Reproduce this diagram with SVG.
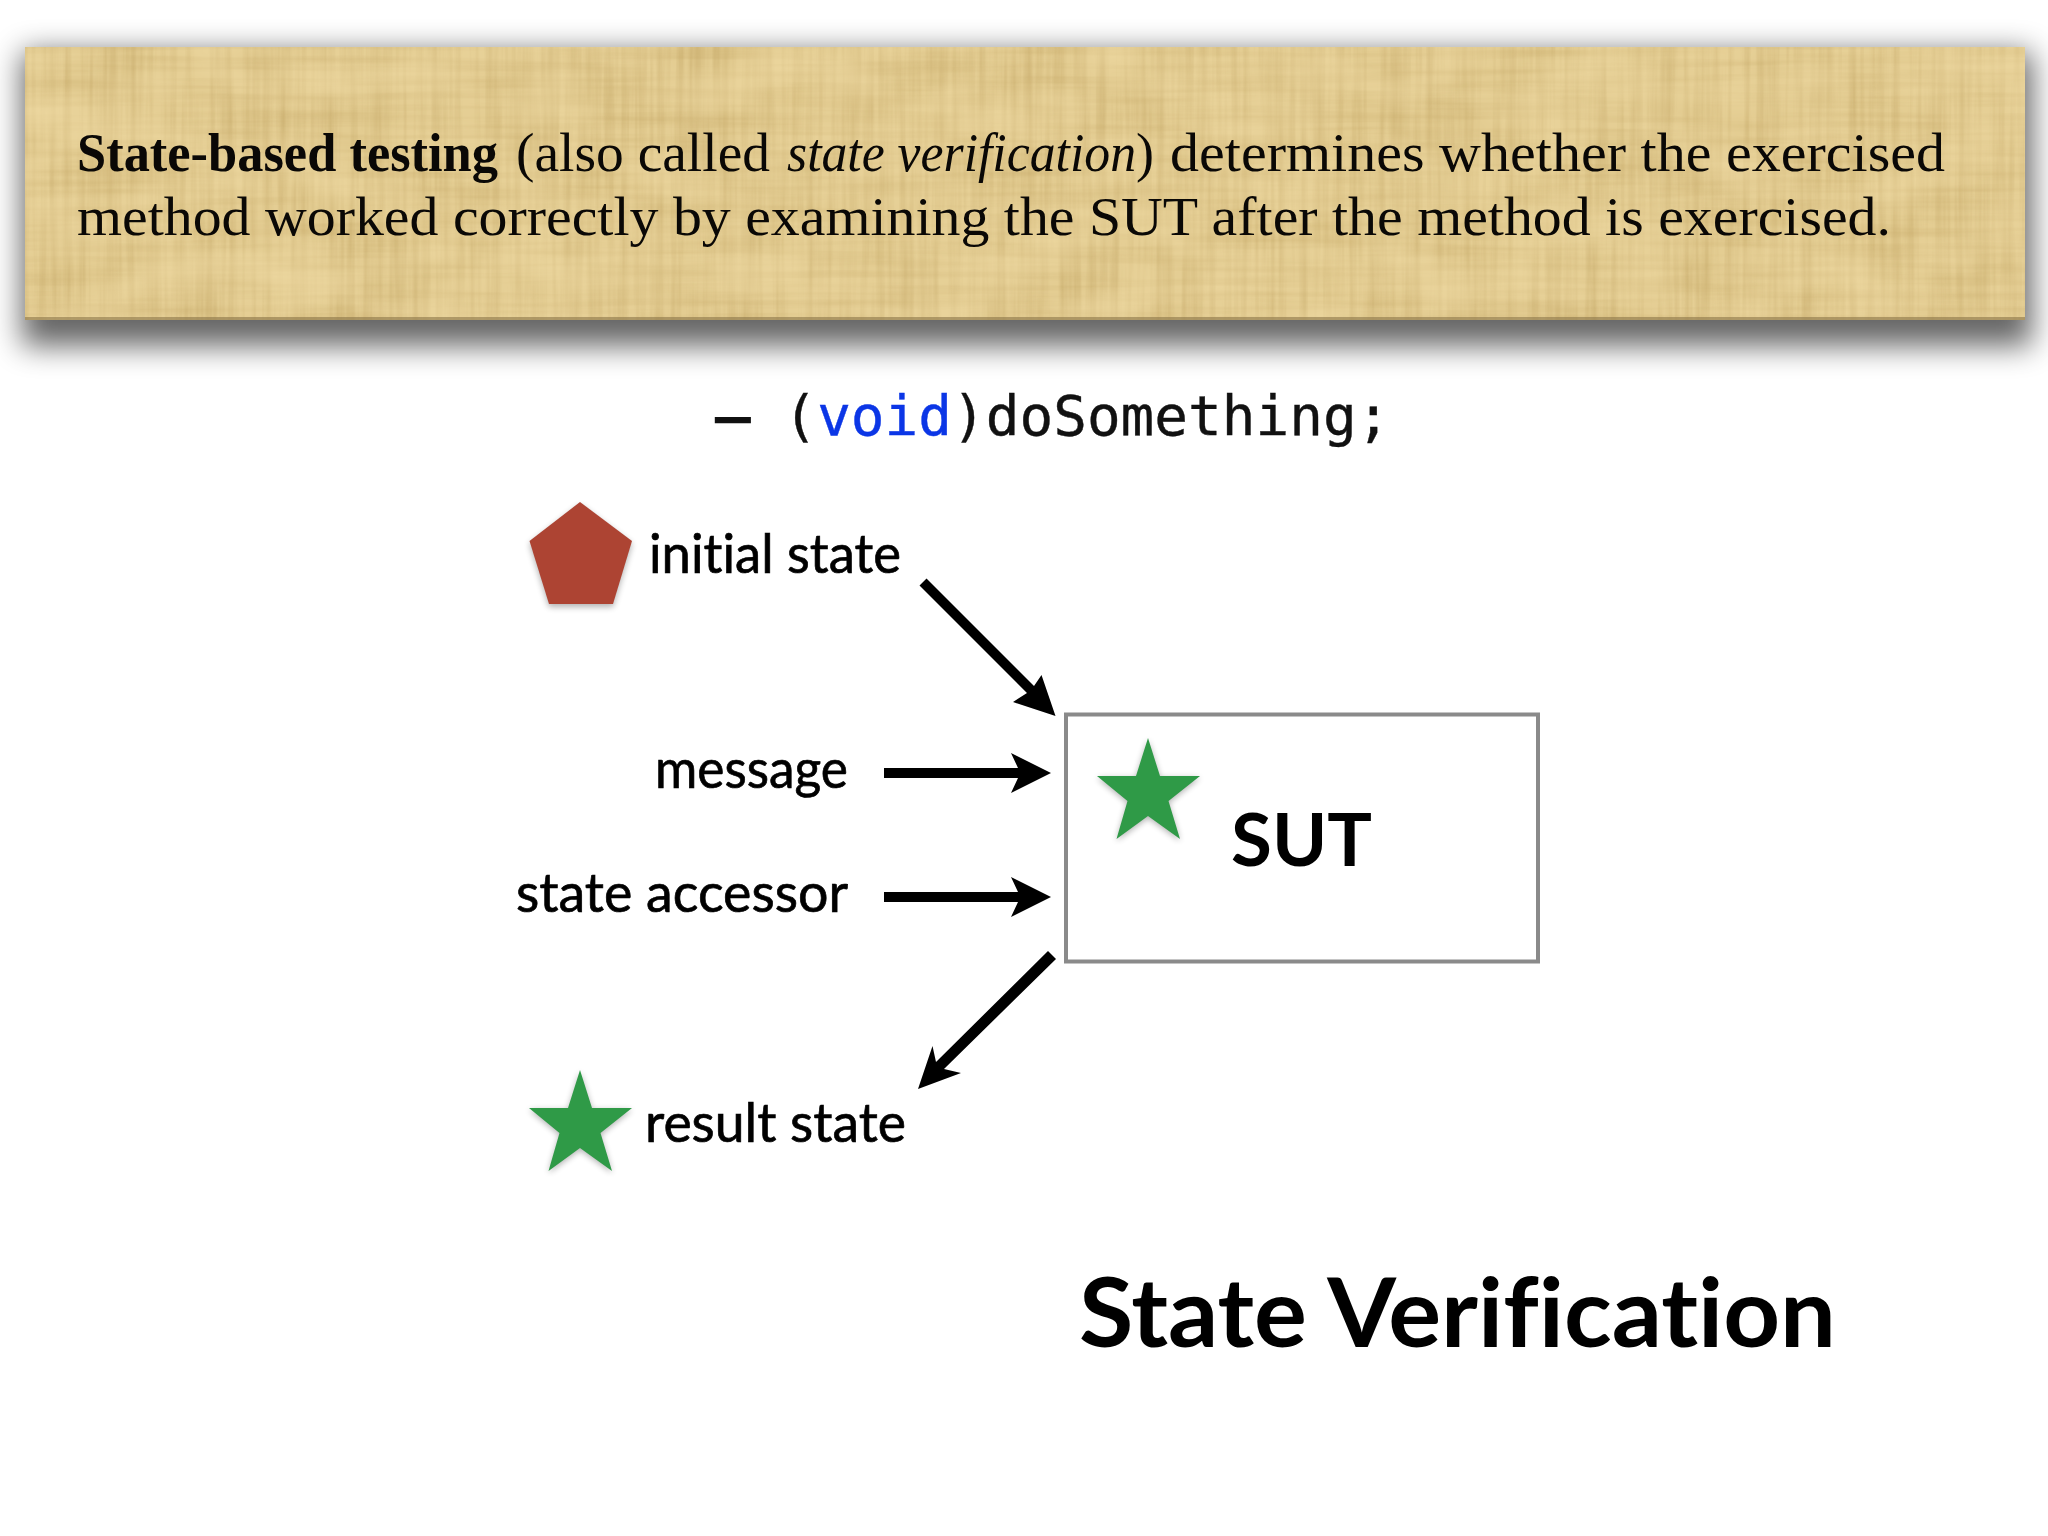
<svg xmlns="http://www.w3.org/2000/svg" width="2048" height="1536" viewBox="0 0 2048 1536">
<style>
.serif{font-family:"Liberation Serif","Times New Roman",serif;font-size:55px;fill:#0a0806}
.gill{font-family:Lato,"Noto Sans",sans-serif;fill:#000;font-variant-ligatures:none}
.lbl{font-size:55px;stroke:#000;stroke-width:.7px}
.mono{font-family:"DejaVu Sans Mono","Liberation Mono",monospace;font-size:56px;fill:#111;stroke:#111;stroke-width:.4px}
.arr{fill:#000;stroke:none}
</style>
<defs>
<filter id="paper" x="0" y="0" width="1" height="1" color-interpolation-filters="sRGB">
<feTurbulence type="fractalNoise" baseFrequency="0.14 0.005" numOctaves="3" seed="4" result="v"/>
<feColorMatrix in="v" type="matrix" values="0 0 0 0 .72 0 0 0 0 .6 0 0 0 0 .34 .7 0 0 0 -.24" result="vc"/>
<feTurbulence type="fractalNoise" baseFrequency="0.005 0.14" numOctaves="3" seed="9" result="h"/>
<feColorMatrix in="h" type="matrix" values="0 0 0 0 .74 0 0 0 0 .62 0 0 0 0 .36 .5 0 0 0 -.18" result="hc"/>
<feTurbulence type="fractalNoise" baseFrequency="0.012 0.02" numOctaves="2" seed="15" result="l"/>
<feColorMatrix in="l" type="matrix" values="0 0 0 0 .95 0 0 0 0 .87 0 0 0 0 .66 1 0 0 0 -.3" result="lc"/>
<feMerge result="m"><feMergeNode in="SourceGraphic"/><feMergeNode in="vc"/><feMergeNode in="hc"/><feMergeNode in="lc"/></feMerge>
<feComposite in="m" in2="SourceGraphic" operator="in"/>
</filter>
<filter id="bshadow" x="-5%" y="-30%" width="110%" height="160%"><feGaussianBlur stdDeviation="15"/></filter>
<filter id="soft" x="-20%" y="-20%" width="140%" height="140%"><feGaussianBlur stdDeviation="3"/></filter>
<polygon id="star" points="580,1070 592,1108 632,1108 600.5,1133 612,1171 580,1148 548.5,1171 559.5,1133 529,1108 568,1108"/>
</defs>
<rect width="2048" height="1536" fill="#fff"/>
<g id="banner">
<rect x="22" y="52" width="2010" height="294" fill="#000" opacity=".6" filter="url(#bshadow)"/>
<rect x="25" y="47" width="2000" height="273" fill="#e3cc91" filter="url(#paper)"/>
<rect x="25" y="317" width="2000" height="3" fill="#8a7448" opacity=".6"/>
<text class="serif" y="171"><tspan x="77" font-weight="bold" textLength="421" lengthAdjust="spacingAndGlyphs">State-based testing</tspan> <tspan x="516" textLength="254" lengthAdjust="spacingAndGlyphs">(also called</tspan> <tspan x="787" font-style="italic" textLength="349" lengthAdjust="spacingAndGlyphs">state verification</tspan><tspan x="1136" textLength="18" lengthAdjust="spacingAndGlyphs">)</tspan> <tspan x="1170" textLength="775" lengthAdjust="spacingAndGlyphs">determines whether the exercised</tspan></text>
<text class="serif" x="77" y="235" textLength="1814" lengthAdjust="spacingAndGlyphs">method worked correctly by examining the SUT after the method is exercised.</text>
</g>
<text id="signature" class="mono" x="716" y="435"><tspan stroke-width="2.4">–</tspan> (<tspan fill="#0b36e6" stroke="#0b36e6">void</tspan>)doSomething;</text>
<g id="initial-state">
<polygon points="580,502 632,541 613,604 549,604 529.5,541" fill="#000" opacity=".3" filter="url(#soft)" transform="translate(0,3)"/>
<polygon points="580,502 632,541 613,604 549,604 529.5,541" fill="#ad4433"/>
<text class="gill lbl" x="649" y="573" textLength="252" lengthAdjust="spacingAndGlyphs">initial state</text>
</g>
<g id="message"><text class="gill lbl" x="655" y="788" textLength="193" lengthAdjust="spacingAndGlyphs">message</text></g>
<g id="state-accessor"><text class="gill lbl" x="516" y="912" textLength="332" lengthAdjust="spacingAndGlyphs">state accessor</text></g>
<g id="result-state">
<use href="#star" fill="#000" opacity=".3" filter="url(#soft)" y="2"/>
<use href="#star" fill="#2f9a47"/>
<text class="gill lbl" x="645" y="1142" textLength="261" lengthAdjust="spacingAndGlyphs">result state</text>
</g>
<g id="sut">
<rect x="1066" y="714.5" width="472" height="247" fill="#fff" stroke="#8a8a8a" stroke-width="4"/>
<g transform="translate(568,-332)"><use href="#star" fill="#000" opacity=".3" filter="url(#soft)" y="2"/><use href="#star" fill="#2f9a47"/></g>
<text class="gill" x="1231" y="866" font-size="72" font-weight="bold" textLength="141" lengthAdjust="spacingAndGlyphs">SUT</text>
</g>
<g id="connectors">
<polygon class="arr" points="919.5,585.5 926.5,578.5 1034,686 1041.5,675 1055.5,716 1013,702 1027,693"/>
<polygon class="arr" points="884,768 1018,768 1011,753 1051,773 1011,793 1018,778 884,778"/>
<polygon class="arr" points="884,892 1018,892 1011,877 1051,897 1011,917 1018,902 884,902"/>
<polygon class="arr" points="1048,951 1056,959 944,1069 961,1073 918,1089 932.5,1046 936,1062"/>
</g>
<text id="title" class="gill" x="1079" y="1347" font-size="96" font-weight="bold" textLength="757" lengthAdjust="spacingAndGlyphs">State Verification</text>
</svg>
